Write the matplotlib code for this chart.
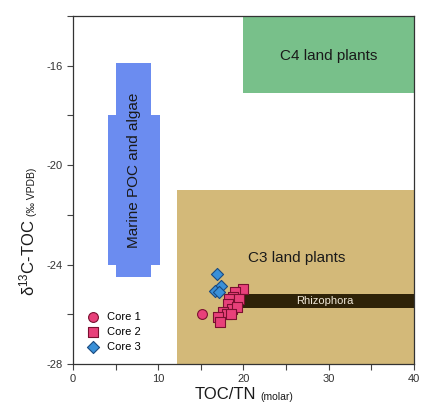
import matplotlib
matplotlib.use("Agg")
import matplotlib.pyplot as plt
from matplotlib.patches import Rectangle
from matplotlib.ticker import MultipleLocator
import numpy as np

plt.rcParams['font.family'] = ['Liberation Sans', 'DejaVu Sans']
plt.rcParams['axes.unicode_minus'] = False

# source fields (x0, x1, y0, y1)
c4_box = (20, 40, -17.1, -14)
c3_box = (12.2, 40, -28, -21)
marine_narrow = (5.0, 9.1, -24.5, -15.9)
marine_wide = (4.1, 10.2, -24, -18)
rhizophora_bar = (18, 40, -25.75, -25.2)

# samples
core1_x = [15.1]
core1_y = [-26.0]
core2_x = [20.0, 19.0, 18.8, 18.3, 19.5, 18.2, 18.6, 19.2, 17.6, 18.1, 17.0, 17.2, 18.5]
core2_y = [-25.0, -25.1, -25.3, -25.4, -25.4, -25.6, -25.8, -25.7, -25.9, -26.0, -26.1, -26.3, -26.0]
core3_x = [16.9, 17.4, 16.7, 17.1]
core3_y = [-24.4, -24.85, -25.05, -25.1]

fig = plt.figure(figsize=(4.22, 4.16), dpi=100)
ax = fig.add_axes([0.173, 0.125, 0.808, 0.837])

def box(b, color, z=1):
    ax.add_patch(Rectangle((b[0], b[2]), b[1] - b[0], b[3] - b[2],
                           facecolor=color, edgecolor='none', zorder=z))

box(c4_box, '#78c08a')
box(c3_box, '#d3b979')
box(marine_narrow, '#6b8cf0')
box(marine_wide, '#6b8cf0')
box(rhizophora_bar, '#2e2208', z=2)

ax.text(30, -15.6, 'C4 land plants', ha='center', va='center', fontsize=11, color='#1a1a1a')
ax.text(26.2, -23.75, 'C3 land plants', ha='center', va='center', fontsize=11, color='#1a1a1a')
ax.text(29.5, -25.47, 'Rhizophora', ha='center', va='center', fontsize=8, color='#f0e8d8', zorder=3)
ax.text(7.1, -20.2, 'Marine POC and algae', ha='center', va='center', rotation=90,
        fontsize=11, color='#1a1a1a')

ax.scatter(core1_x, core1_y, marker='o', s=50, c='#e8407a', edgecolors='#7a1030',
           linewidths=0.8, zorder=4, label='Core 1')
ax.scatter(core2_x, core2_y, marker='s', s=55, c='#e8407a', edgecolors='#7a1030',
           linewidths=0.8, zorder=4, label='Core 2')
ax.scatter(core3_x, core3_y, marker='D', s=38, c='#3a90d8', edgecolors='#1a4a80',
           linewidths=0.8, zorder=5, label='Core 3')

ax.legend(loc='lower left', bbox_to_anchor=(0.0, 0.01), frameon=False, fontsize=8,
          handletextpad=0.3, labelspacing=0.45, borderaxespad=0.4)

ax.set_xlim(0, 40)
ax.set_ylim(-28, -14)
ax.set_xticks([0, 10, 20, 30, 40])
ax.set_yticks([-28, -24, -20, -16])
ax.xaxis.set_minor_locator(MultipleLocator(5))
ax.yaxis.set_minor_locator(MultipleLocator(2))
ax.tick_params(which='both', direction='out', length=4, width=0.8, color='#444444',
               labelsize=8, labelcolor='#333333')
for s in ax.spines.values():
    s.set_color('#333333')
    s.set_linewidth(0.9)

xl = ax.set_xlabel('TOC/TN', fontsize=12, color='#1a1a1a')
ax.xaxis.set_label_coords(0.446, -0.065)
ax.annotate('(molar)', xy=(1, 0), xycoords=xl, xytext=(3, 0), textcoords='offset points',
            fontsize=7.5, color='#1a1a1a', ha='left', va='bottom')
yl = ax.set_ylabel(r'$\mathregular{\delta^{13}}$C-TOC', fontsize=12, color='#1a1a1a')
ax.yaxis.set_label_coords(-0.105, 0.307)
ax.annotate('(\u2030 VPDB)', xy=(1, 1), xycoords=yl, xytext=(0, 2), textcoords='offset points',
            fontsize=7.5, color='#1a1a1a', rotation=90, ha='right', va='bottom')

fig.savefig('out.png', dpi=100)
